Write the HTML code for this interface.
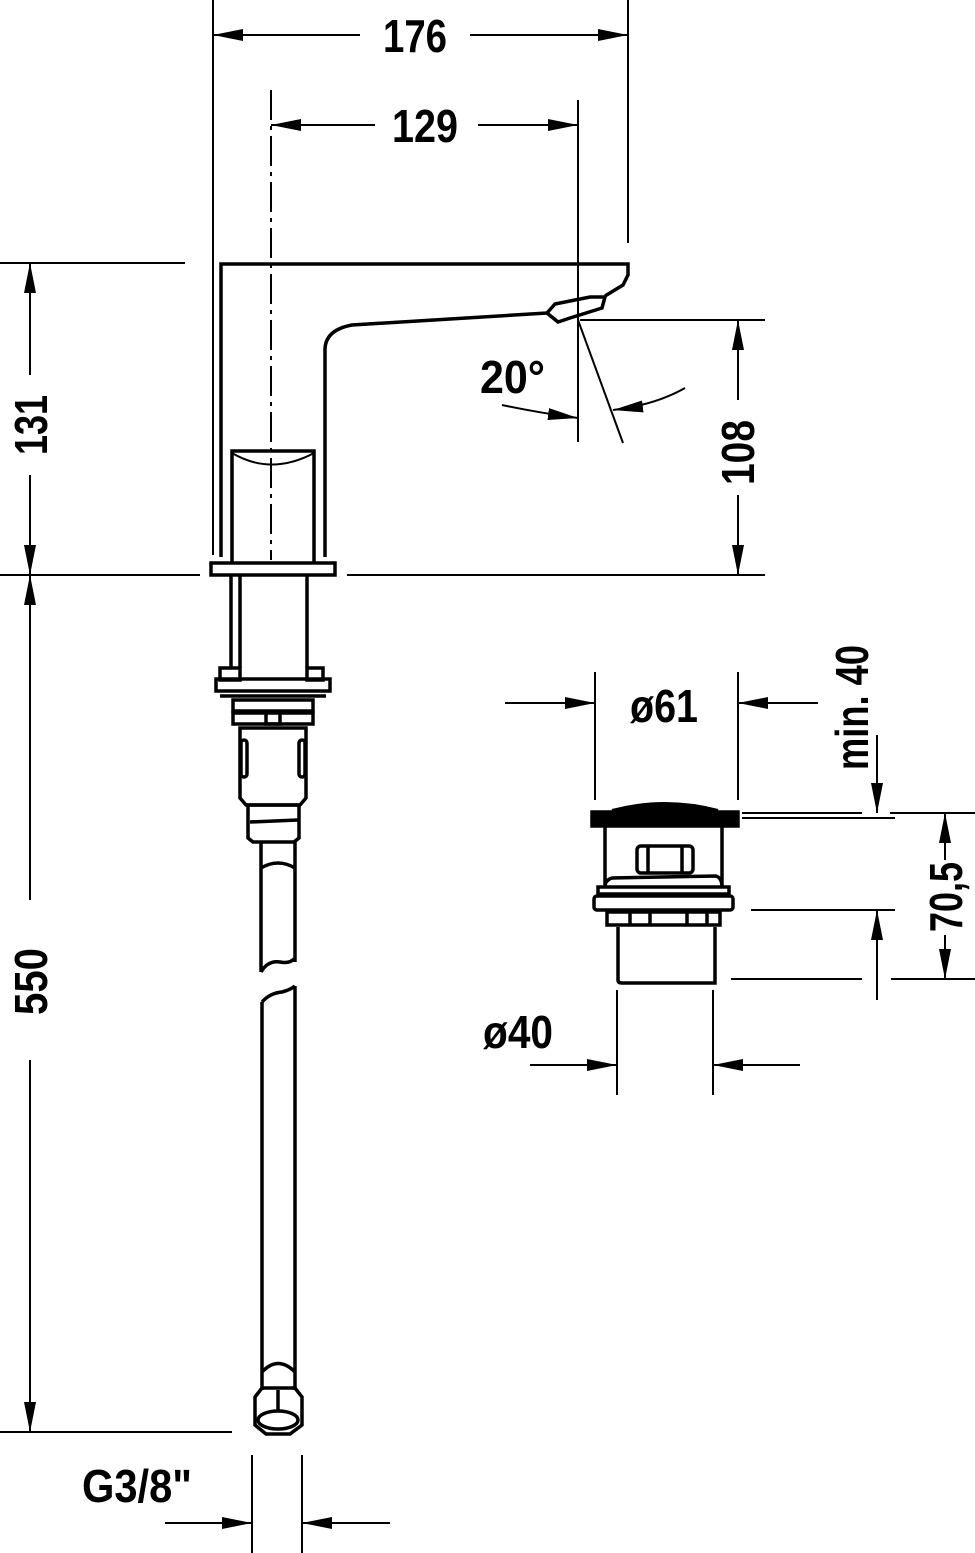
<!DOCTYPE html>
<html><head><meta charset="utf-8"><style>
html,body{margin:0;padding:0;background:#fff}
svg{display:block}
text{font-family:"Liberation Sans Narrow","Liberation Sans",sans-serif;font-weight:bold;font-size:46px;fill:#000}
</style></head><body>
<svg width="975" height="1553" viewBox="0 0 975 1553" xmlns="http://www.w3.org/2000/svg">
<defs>
<marker id="a" viewBox="0 0 30 12" refX="30" refY="6" markerWidth="30" markerHeight="12" markerUnits="userSpaceOnUse" orient="auto"><path d="M0,0 L30,6 L0,12 z" fill="#000"/></marker>
</defs>
<g stroke="#000" stroke-width="2" fill="none">
<line x1="213" y1="0" x2="213" y2="555"/>
<line x1="628" y1="0" x2="628" y2="243"/>
<line x1="360" y1="35" x2="213" y2="35" marker-end="url(#a)"/>
<line x1="470" y1="35" x2="628" y2="35" marker-end="url(#a)"/>
<line x1="271" y1="90" x2="271" y2="560" stroke-dasharray="30,6,4,6"/>
<line x1="578" y1="100" x2="578" y2="442"/>
<line x1="375" y1="125" x2="271" y2="125" marker-end="url(#a)"/>
<line x1="478" y1="125" x2="578" y2="125" marker-end="url(#a)"/>
<line x1="0" y1="263" x2="185" y2="263"/>
<line x1="0" y1="575" x2="200" y2="575"/>
<line x1="347" y1="575" x2="765" y2="575"/>
<line x1="0" y1="1432" x2="232" y2="1432"/>
<line x1="30" y1="375" x2="30" y2="263" marker-end="url(#a)"/>
<line x1="30" y1="475" x2="30" y2="575" marker-end="url(#a)"/>
<line x1="30" y1="900" x2="30" y2="575" marker-end="url(#a)"/>
<line x1="30" y1="1060" x2="30" y2="1432" marker-end="url(#a)"/>
<line x1="580" y1="320" x2="765" y2="320"/>
<line x1="738" y1="400" x2="738" y2="320" marker-end="url(#a)"/>
<line x1="738" y1="495" x2="738" y2="575" marker-end="url(#a)"/>
<line x1="578" y1="320" x2="623" y2="443"/>
<path d="M502,405 Q540,413 578,418" marker-end="url(#a)"/>
<path d="M685,388 Q655,405 613,410" marker-end="url(#a)"/>
<g stroke-width="3.5">
<path d="M221,557 L221,264 L628,264 L628,275 L623,285 L605,296"/>
<path d="M325,557 L325,350 Q325,330 352,325 L547,313"/>
<path d="M547,313 L555,304 L590,297 L605,297 L602,308 L570,318 L558,322 Z"/>
<path d="M232,562 L232,451 L314,451 L314,562"/>
<path d="M232,453 Q271,476 314,453" stroke-width="2"/>
<rect x="211" y="563" width="124" height="12"/>
<line x1="231" y1="575" x2="231" y2="668"/>
<line x1="240" y1="575" x2="240" y2="668"/>
<line x1="307" y1="575" x2="307" y2="668"/>
<rect x="220" y="668" width="20" height="12"/>
<rect x="307" y="668" width="16" height="12"/>
<rect x="216" y="679" width="114" height="12"/>
<line x1="220" y1="696" x2="326" y2="696"/>
<rect x="233" y="700" width="80" height="11"/>
<rect x="233" y="713" width="80" height="11"/>
<rect x="266" y="712" width="14" height="12"/>
<path d="M240,728 L306,728 L306,798 L300,805 L246,805 L240,798 Z"/>
<rect x="241" y="740" width="6" height="37" rx="3"/>
<rect x="299" y="740" width="6" height="37" rx="3"/>
<path d="M248,805 L299,805 L299,838 L294,842 L253,842 L248,838 Z"/>
<line x1="250" y1="822" x2="298" y2="820"/>
<line x1="261" y1="842" x2="261" y2="972"/>
<line x1="295" y1="842" x2="295" y2="962"/>
<path d="M261,868 Q278,858 295,868"/>
<path d="M261,972 Q268,960 280,962 Q290,964 295,958"/>
<path d="M262,1002 Q270,993 282,992 Q290,990 295,986"/>
<line x1="262" y1="1002" x2="262" y2="1370"/>
<line x1="295" y1="986" x2="295" y2="1370"/>
<path d="M262,1372 Q278,1355 295,1372"/>
<line x1="262" y1="1370" x2="262" y2="1390"/>
<line x1="295" y1="1370" x2="295" y2="1390"/>
<path d="M255,1397 L262,1388 L295,1388 L302,1397 L302,1425 L290,1434 L266,1434 L255,1425 Z"/>
<line x1="278" y1="1390" x2="278" y2="1410"/>
<ellipse cx="278" cy="1420" rx="20" ry="9"/>
<path d="M592,812 L738,812 L738,826 L592,826 Z" fill="#000"/>
<path d="M612,810 Q665,796 718,810 Z" fill="#000" stroke-width="2"/>
<line x1="605" y1="826" x2="605" y2="887"/>
<line x1="722" y1="826" x2="722" y2="887"/>
<rect x="637" y="846" width="56" height="27" rx="4"/>
<line x1="648" y1="846" x2="648" y2="873"/>
<line x1="682" y1="846" x2="682" y2="873"/>
<path d="M605,887 Q605,880 612,878 L716,876 Q722,878 722,887"/>
<rect x="598" y="887" width="131" height="7"/>
<rect x="594" y="896" width="139" height="14" rx="3"/>
<path d="M607,912 L720,912 L720,925 L607,925 Z"/>
<line x1="630" y1="912" x2="630" y2="925"/>
<line x1="650" y1="912" x2="650" y2="925"/>
<line x1="687" y1="912" x2="687" y2="925"/>
<line x1="707" y1="912" x2="707" y2="925"/>
<path d="M618,927 L618,980 Q618,983 622,983 L715,983 L715,927"/>
</g>
<line x1="595" y1="672" x2="595" y2="800"/>
<line x1="738" y1="672" x2="738" y2="800"/>
<line x1="505" y1="703" x2="595" y2="703" marker-end="url(#a)"/>
<line x1="818" y1="703" x2="738" y2="703" marker-end="url(#a)"/>
<line x1="742" y1="813" x2="862" y2="813"/>
<line x1="742" y1="818" x2="895" y2="818"/>
<line x1="890" y1="813" x2="975" y2="813"/>
<line x1="877" y1="735" x2="877" y2="813" marker-end="url(#a)"/>
<line x1="751" y1="910" x2="895" y2="910"/>
<line x1="877" y1="1000" x2="877" y2="910" marker-end="url(#a)"/>
<line x1="731" y1="979" x2="862" y2="979"/>
<line x1="891" y1="979" x2="975" y2="979"/>
<line x1="945" y1="860" x2="945" y2="813" marker-end="url(#a)"/>
<line x1="945" y1="935" x2="945" y2="979" marker-end="url(#a)"/>
<line x1="617" y1="990" x2="617" y2="1095"/>
<line x1="713" y1="990" x2="713" y2="1095"/>
<line x1="530" y1="1065" x2="617" y2="1065" marker-end="url(#a)"/>
<line x1="800" y1="1065" x2="713" y2="1065" marker-end="url(#a)"/>
<line x1="252" y1="1455" x2="252" y2="1553"/>
<line x1="302" y1="1455" x2="302" y2="1553"/>
<line x1="165" y1="1523" x2="252" y2="1523" marker-end="url(#a)"/>
<line x1="390" y1="1523" x2="302" y2="1523" marker-end="url(#a)"/>
</g>
<text x="383" y="52" textLength="64" lengthAdjust="spacingAndGlyphs">176</text>
<text x="392" y="142" textLength="66" lengthAdjust="spacingAndGlyphs">129</text>
<text x="480" y="393" textLength="65" lengthAdjust="spacingAndGlyphs">20°</text>
<text x="630" y="722" textLength="68" lengthAdjust="spacingAndGlyphs">ø61</text>
<text x="483" y="1048" textLength="70" lengthAdjust="spacingAndGlyphs">ø40</text>
<text x="82" y="1502" textLength="110" lengthAdjust="spacingAndGlyphs">G3/8"</text>
<text transform="translate(47,455) rotate(-90)" textLength="60" lengthAdjust="spacingAndGlyphs">131</text>
<text transform="translate(47,1015) rotate(-90)" textLength="67" lengthAdjust="spacingAndGlyphs">550</text>
<text transform="translate(754,485) rotate(-90)" textLength="65" lengthAdjust="spacingAndGlyphs">108</text>
<text transform="translate(868,770) rotate(-90)" textLength="125" lengthAdjust="spacingAndGlyphs">min. 40</text>
<text transform="translate(962,932) rotate(-90)" textLength="70" lengthAdjust="spacingAndGlyphs">70,5</text>
</svg>
</body></html>
